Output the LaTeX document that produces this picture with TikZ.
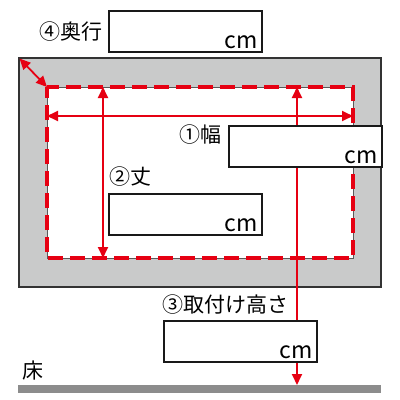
\documentclass[tikz,border=0pt]{standalone}
\usepackage{fontspec}
\setmainfont{Noto Sans CJK JP}
\usetikzlibrary{arrows.meta}
\definecolor{markred}{HTML}{E60012}
\definecolor{framegray}{HTML}{C9CACA}
\definecolor{floorgray}{HTML}{8C8C8C}
\tikzset{
  dim/.style={markred,line width=1.8pt,{Triangle[length=11pt,width=10pt]}-{Triangle[length=11pt,width=10pt]}},
  inbox/.style={draw=black!90,line width=2pt,fill=white,minimum width=153pt,minimum height=41pt,inner sep=0pt},
  unit/.style={anchor=south east,inner sep=0pt,font=\fontsize{23}{23}\selectfont},
  caption/.style={anchor=west,inner sep=0pt,font=\fontsize{21}{21}\selectfont}
}
\begin{document}
\begin{tikzpicture}[x=1pt,y=-1pt]
\useasboundingbox (0,0) rectangle (400,400);

      % frame and opening
      \fill[framegray,draw=black!80,line width=1.5pt] (19,58) rectangle (381,287);
      \fill[white,draw=black!65,line width=1pt] (47,87) rectangle (353,258);
      \draw[markred,line width=3.5pt,dash pattern=on 15pt off 7pt,dash phase=4pt]
        (47,87) rectangle (353,258);

      % floor
      \fill[floorgray] (18,385) rectangle (381,393);

      \coordinate (onw) at (19.5,58.5);
      \coordinate (inw) at (47,87);
      \coordinate (iw)  at (47,116);
      \coordinate (ie)  at (353,116);
      \coordinate (it1) at (103,87);
      \coordinate (ib1) at (103,258);
      \coordinate (it2) at (297,87);
      \coordinate (floor) at (297,385);

      \begin{scope}
        \draw[dim] (onw) -- (inw);
        \draw[dim] (iw) -- (ie);
        \draw[dim] (it1) -- (ib1);
        \draw[dim] (it2) -- (floor);
      \end{scope}

      \begin{scope}[every node/.style={inbox}]
        \node (okuyuki) at (185.5,31.5)  {};
        \node (haba)    at (305,146)     {};
        \node (take)    at (185.5,214.5) {};
        \node (takasa)  at (240,341.5)   {};
      \end{scope}

      \begin{scope}[every node/.style={unit}]
        \node (cm4) at ([shift={(-5,-4)}]okuyuki.south east) {cm};
        \node (cm1) at ([shift={(-5,-4)}]haba.south east)    {cm};
        \node (cm2) at ([shift={(-5,-4)}]take.south east)    {cm};
        \node (cm3) at ([shift={(-5,-4)}]takasa.south east)  {cm};
      \end{scope}

      \begin{scope}[every node/.style={caption}]
        \node (l4)    at (39,32)   {④奥行};
        \node (l1)    at (179,135) {①幅};
        \node (l2)    at (109,177) {②丈};
        \node (l3)    at (162,305) {③取付け高さ};
        \node (lfloor) at (22,371) {床};
      \end{scope}

    \end{tikzpicture}
\end{document}
